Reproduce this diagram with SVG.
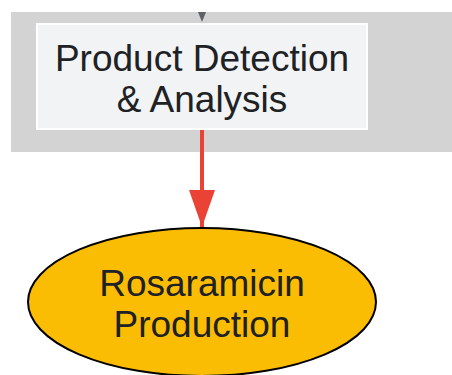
<svg xmlns="http://www.w3.org/2000/svg" width="452" height="375" viewBox="0 0 452 375">
<style>
.lbl{font-family:"Liberation Sans",Arial,sans-serif;font-size:37px;fill:#202124;text-anchor:middle}
</style>
<defs>
<marker id="redArrow" markerUnits="userSpaceOnUse" markerWidth="40" markerHeight="28" refX="37" refY="13" orient="auto">
<path d="M0,0 L37,13 L0,26 Z" fill="#ea4335"/>
</marker>
</defs>
<rect id="cluster" x="11" y="12" width="441" height="140" fill="#d3d3d3"/>
<g id="connectors">
<path d="M198,12 L206,12 L202,22 Z" fill="#5f6368"/>
<line x1="202" y1="130" x2="202" y2="227" stroke="#ea4335" stroke-width="4" marker-end="url(#redArrow)"/>
</g>
<g id="node-detection">
<rect x="37" y="24" width="330" height="105" fill="#f1f3f4" stroke="#ffffff" stroke-width="2"/>
<text class="lbl" x="202" y="71">Product Detection</text>
<text class="lbl" x="202" y="112">&amp; Analysis</text>
</g>
<g id="node-rosaramicin">
<ellipse cx="202" cy="302" rx="174" ry="74" fill="#fbbc04" stroke="#000000" stroke-width="2"/>
<text class="lbl" x="202" y="296">Rosaramicin</text>
<text class="lbl" x="202" y="337">Production</text>
</g>
</svg>
